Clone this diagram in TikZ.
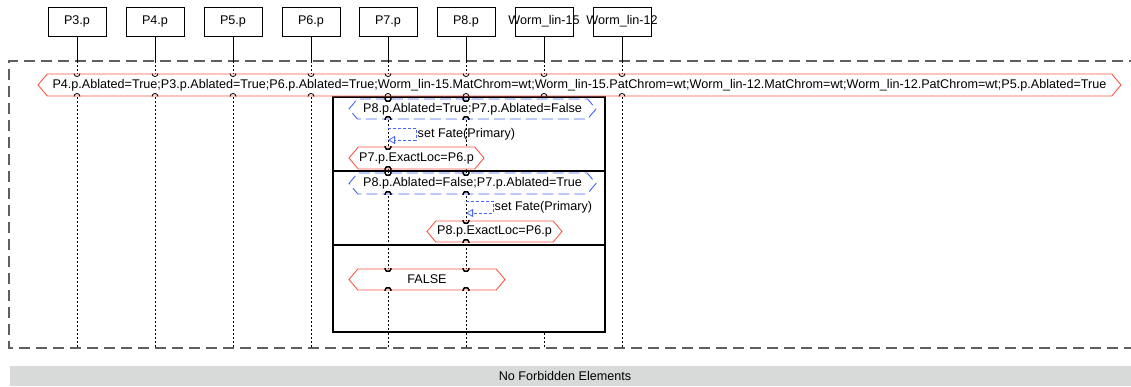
\documentclass[tikz,border=0pt]{standalone}
\usepackage{fontspec}
\setmainfont{Liberation Sans}
\usetikzlibrary{shapes.symbols,arrows.meta}
\definecolor{condred}{RGB}{250,90,70}
\definecolor{guardblue}{RGB}{70,100,250}
\definecolor{framegray}{RGB}{95,95,95}
\definecolor{barfill}{RGB}{216,218,218}
\tikzset{
  hdr/.style={draw, line width=0.8pt, minimum width=58pt, minimum height=29pt, inner sep=0pt},
  hexa/.style={signal, signal to=west and east, signal pointer angle=100, fill=white, inner sep=0pt, line width=0.9pt},
  cond/.style={hexa, draw=condred},
  guard/.style={hexa, draw=guardblue, dash pattern=on 11pt off 5pt},
  lifehead/.style={line width=0.8pt},
  life/.style={line width=0.8pt, dash pattern=on 2pt off 2pt},
  selfmsg/.style={draw=guardblue, line width=0.8pt, dash pattern=on 3pt off 2pt},
  altframe/.style={draw, line width=1.6pt, fill=white},
}
\newcommand{\lifecap}[2]{%
  \draw[line width=0.8pt] (#1 |- #2.north) ++(-3,0) arc[start angle=180, end angle=0, radius=3];
  \draw[line width=0.8pt] (#1 |- #2.south) ++(-3,0) arc[start angle=180, end angle=360, radius=3];
}
\begin{document}
\begin{tikzpicture}[x=1pt, y=-1pt, font=\fontsize{12.6}{14}\selectfont]
    \useasboundingbox (0,0) rectangle (1131,386);
    % Lebenslinien-Koepfe
    \foreach \n/\x in {3/77, 4/155, 5/233, 6/311, 7/388, 8/466}
        \node[hdr] (p\n) at (\x,21.5) {P\n.p};
    \node[hdr] (w15) at (544,21.5) {\makebox[48pt]{Worm\_lin-15}};
    \node[hdr] (w12) at (622,21.5) {\makebox[48pt]{Worm\_lin-12}};
    % Rahmen
    \draw[framegray, line width=1.2pt, dash pattern=on 11pt off 6pt]
        (1140,61) -- (9,61) -- (9,348) -- (1140,348);
    \coordinate (top) at (0,61);
    \coordinate (bot) at (0,348);
    % Lebenslinien
    \foreach \l in {p3, p4, p5, p6, p7, p8, w15, w12} {
        \draw[lifehead] (\l.south) -- (\l |- top);
        \draw[life] (\l |- top) -- (\l |- bot);
    }
    % alt-Fragment
    \node[altframe, minimum width=272pt, minimum height=235pt] (alt) at (469,214.5) {};
    \coordinate (div1) at (0,171);
    \coordinate (div2) at (0,245);
    \draw[line width=1.6pt] (alt.west |- div1) -- (alt.east |- div1);
    \draw[line width=1.6pt] (alt.west |- div2) -- (alt.east |- div2);
    \draw[life] (p7 |- alt.north) -- (p7 |- alt.south);
    \draw[life] (p8 |- alt.north) -- (p8 |- alt.south);
    % Bedingungen
    \node[cond, minimum width=1083pt, minimum height=22pt] (c0) at (579.5,85)
        {P4.p.Ablated=True;P3.p.Ablated=True;P6.p.Ablated=True;Worm\_lin-15.MatChrom=wt;Worm\_lin-15.PatChrom=wt;Worm\_lin-12.MatChrom=wt;Worm\_lin-12.PatChrom=wt;P5.p.Ablated=True};
    \node[guard, minimum width=247pt, minimum height=20pt] (g1) at (472.5,109)
        {P8.p.Ablated=True;P7.p.Ablated=False};
    \node[cond, minimum width=135pt, minimum height=22pt] (c2) at (416.5,158)
        {P7.p.ExactLoc=P6.p};
    \node[guard, minimum width=247pt, minimum height=21pt] (g3) at (472.5,183.5)
        {P8.p.Ablated=False;P7.p.Ablated=True};
    \node[cond, minimum width=135pt, minimum height=21pt] (c4) at (494.5,231.5)
        {P8.p.ExactLoc=P6.p};
    \node[cond, minimum width=156pt, minimum height=21pt] (f5) at (427,279.5)
        {FALSE};
    % Durchgaenge
    \foreach \l in {p3, p4, p5, p6, p7, p8, w15, w12}
        \lifecap{\l}{c0}
    \foreach \l in {p7, p8} {
        \lifecap{\l}{g1}
        \lifecap{\l}{g3}
        \lifecap{\l}{f5}
    }
    \lifecap{p7}{c2}
    \lifecap{p8}{c4}
    % Selbstnachrichten
    \coordinate (s1) at (416,128);
    \coordinate (s1b) at (416,140);
    \draw[selfmsg, -{Triangle[open, length=7pt, width=8pt]}] (p7 |- s1) -- (s1) -- (s1b) -- (p7 |- s1b);
    \node[anchor=west, inner sep=1.5pt] (s1t) at (s1 |- 0,134) {set Fate(Primary)};
    \coordinate (s2) at (493,201);
    \coordinate (s2b) at (493,213);
    \draw[selfmsg, -{Triangle[open, length=7pt, width=8pt]}] (p8 |- s2) -- (s2) -- (s2b) -- (p8 |- s2b);
    \node[anchor=west, inner sep=1.5pt] (s2t) at (s2 |- 0,207) {set Fate(Primary)};
    % Fusszeile
    \fill[barfill] (10,366) rectangle (1131,386);
    \node (nfe) at (565,376) {No Forbidden Elements};
\end{tikzpicture}
\end{document}
